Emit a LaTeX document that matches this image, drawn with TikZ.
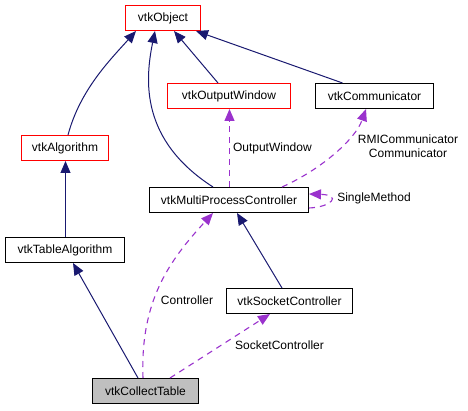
\documentclass[tikz,border=0pt]{standalone}
\usepackage{fontspec}
\setmainfont{Liberation Sans}
\usetikzlibrary{arrows.meta,calc}
\definecolor{navy}{HTML}{191970}
\definecolor{purp}{HTML}{9A32CD}
\definecolor{grayfill}{HTML}{BFBFBF}
\tikzset{
  cls/.style={draw=black, line width=1pt, minimum height=25pt, inner sep=0pt, font=\fontsize{12}{14}\selectfont, fill=white},
  redcls/.style={cls, draw=red},
  inh/.style={draw=navy, line width=1pt, -{Triangle[length=12pt,width=10pt]}},
  use/.style={draw=purp, line width=1.1pt, dash pattern=on 6pt off 5pt, -{Triangle[length=12pt,width=10pt]}},
  lbl/.style={font=\fontsize{12}{14}\selectfont, inner sep=0pt}
}
\begin{document}
\begin{tikzpicture}[x=1pt,y=-1pt]
\useasboundingbox (0,0) rectangle (468,411);
\node[redcls, minimum width=75pt] (obj) at (163,18) {vtkObject};
\node[redcls, minimum width=87pt] (alg) at (65,148) {vtkAlgorithm};
\node[redcls, minimum width=123pt] (ow) at (229,96) {vtkOutputWindow};
\node[cls, minimum width=118pt] (comm) at (374.5,96) {vtkCommunicator};
\node[cls, minimum width=159pt] (mpc) at (229,200) {vtkMultiProcessController};
\node[cls, minimum width=119pt] (talg) at (65,250) {vtkTableAlgorithm};
\node[cls, minimum width=126pt] (sock) at (289.5,301) {vtkSocketController};
\node[cls, minimum width=106pt, fill=grayfill] (ct) at (145.5,391) {vtkCollectTable};

% inheritance
\draw[inh] ([xshift=3pt]alg.north) .. controls (80,90) and (110,60) .. ([xshift=-27pt]obj.south);
\draw[inh] ([xshift=-16pt]mpc.north) .. controls (140,140) and (145,80) .. ([xshift=-8pt]obj.south);
\draw[inh] ([xshift=-11pt]ow.north) -- ([xshift=11pt]obj.south);
\draw[inh] ([xshift=-32pt]comm.north) -- ([xshift=33pt]obj.south);
\draw[inh] ([xshift=0.5pt]talg.north) -- ([xshift=0.5pt]alg.south);
\draw[inh] ([xshift=-7.5pt]ct.north) -- ([xshift=8pt]talg.south);
\draw[inh] ([xshift=-7.5pt]sock.north) -- ([xshift=8pt]mpc.south);

% usage
\draw[use] ([xshift=0.5pt]mpc.north) -- node[lbl, right=3pt] {OutputWindow} ([xshift=0.5pt]ow.south);
\draw[use] ([xshift=53pt]mpc.north) .. controls (320,170) and (355,140) .. ([xshift=-8.5pt]comm.south);
\node[lbl, align=center] (rmil) at (408,146.5) {RMICommunicator\\Communicator};
\draw[use] ([yshift=-8pt]mpc.east) .. controls (332,207) and (342,195) .. ([yshift=6pt]mpc.east);
\node[lbl] (sml) at (374,198) {SingleMethod};
\draw[use] ([xshift=-2.5pt]ct.north) .. controls (140,300) and (170,260) .. ([xshift=-16pt]mpc.south);
\node[lbl] (ctl) at (187,300) {Controller};
\draw[use] ([xshift=24.5pt]ct.north) -- ([xshift=-19.5pt]sock.south);
\node[lbl] (scl) at (279.5,345) {SocketController};
\end{tikzpicture}
\end{document}
